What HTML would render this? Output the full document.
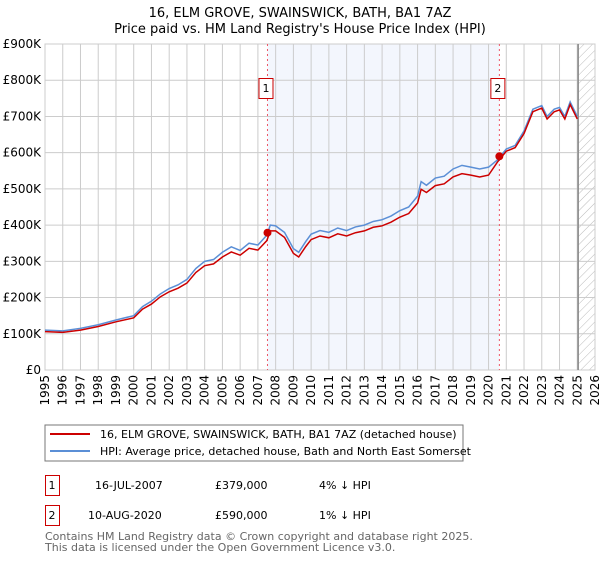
<!DOCTYPE html>
<html><head><meta charset="utf-8"><style>
body{margin:0;background:#fff;font-family:"DejaVu Sans","Liberation Sans",sans-serif;}
svg text{font-family:"DejaVu Sans","Liberation Sans",sans-serif;}
</style></head><body>
<svg id="chart" width="600" height="560" xmlns="http://www.w3.org/2000/svg">
<defs><pattern id="hatch" width="6" height="6" patternUnits="userSpaceOnUse" patternTransform="rotate(45)"><line x1="0" y1="0" x2="0" y2="6" stroke="#bbb" stroke-width="1"/></pattern></defs>
<text x="300" y="17" text-anchor="middle" font-size="13">16, ELM GROVE, SWAINSWICK, BATH, BA1 7AZ</text>
<text x="300" y="33" text-anchor="middle" font-size="13">Price paid vs. HM Land Registry's House Price Index (HPI)</text>
<g id="grid"></g><g id="marks"></g>
<rect x="45" y="425" width="418" height="36" fill="#fff" stroke="#777"/>
<line x1="50" y1="434" x2="90" y2="434" stroke="#cc0000" stroke-width="2"/>
<text x="100" y="438" font-size="11">16, ELM GROVE, SWAINSWICK, BATH, BA1 7AZ (detached house)</text>
<line x1="50" y1="451" x2="90" y2="451" stroke="#5b8fd6" stroke-width="2"/>
<text x="100" y="455" font-size="11">HPI: Average price, detached house, Bath and North East Somerset</text>
<g>
<rect x="45.5" y="475.5" width="14" height="20" fill="#fff" stroke="#cc0000"/><text x="52" y="489" text-anchor="middle" font-size="11">1</text>
<text x="95" y="489" font-size="11">16-JUL-2007</text><text x="215" y="489" font-size="11">£379,000</text><text x="319" y="489" font-size="11">4% ↓ HPI</text></g>
<g>
<rect x="45.5" y="505.5" width="14" height="20" fill="#fff" stroke="#cc0000"/><text x="52" y="519" text-anchor="middle" font-size="11">2</text>
<text x="88" y="519" font-size="11">10-AUG-2020</text><text x="215" y="519" font-size="11">£590,000</text><text x="319" y="519" font-size="11">1% ↓ HPI</text></g>
<text x="45" y="540" font-size="11" fill="#666">Contains HM Land Registry data © Crown copyright and database right 2025.</text>
<text x="45" y="551" font-size="11" fill="#666">This data is licensed under the Open Government Licence v3.0.</text>
</svg>
<script>
const hpiYears=[1995,1996,1997,1998,1999,2000,2000.5,2001,2001.5,2002,2002.5,2003,2003.5,2004,2004.5,2005,2005.5,2006,2006.5,2007,2007.5,2007.7,2008,2008.5,2009,2009.3,2009.7,2010,2010.5,2011,2011.5,2012,2012.5,2013,2013.5,2014,2014.5,2015,2015.5,2016,2016.2,2016.5,2017,2017.5,2018,2018.5,2019,2019.5,2020,2020.5,2021,2021.5,2022,2022.5,2023,2023.3,2023.7,2024,2024.3,2024.6,2024.8,2025];
const hpiValues=[110,108,115,125,138,150,175,190,210,225,235,250,280,300,305,325,340,330,350,345,372,400,398,380,335,325,355,375,385,380,392,385,395,400,410,415,425,440,450,480,520,510,530,535,555,565,560,555,560,580,610,620,660,720,730,700,720,725,700,740,720,700];
const priceValues=[106,104,110,120,133,144,168,182,202,216,226,240,269,288,293,312,326,317,336,331,357,384,384,366,322,312,341,360,370,365,376,370,379,384,394,398,408,422,432,461,499,490,509,514,533,542,538,533,538,574,604,614,653,713,723,693,713,718,693,733,713,693];
const sales=[{t:2007.54,v:379,label:"1"},{t:2020.61,v:590,label:"2"}];
const yTicks=[0,100,200,300,400,500,600,700,800,900];
const yTickLabels=["£0","£100K","£200K","£300K","£400K","£500K","£600K","£700K","£800K","£900K"];
const xTicks=[1995,1996,1997,1998,1999,2000,2001,2002,2003,2004,2005,2006,2007,2008,2009,2010,2011,2012,2013,2014,2015,2016,2017,2018,2019,2020,2021,2022,2023,2024,2025,2026];
const X0=45,X1=595,Y0=370,Y1=44;
const x=t=>X0+(t-1995)/31*(X1-X0);
const y=v=>Y0-v/900*(Y0-Y1);
const NS="http://www.w3.org/2000/svg";
function mk(tag,attrs,parent){const e=document.createElementNS(NS,tag);for(const k in attrs)e.setAttribute(k,attrs[k]);parent.appendChild(e);return e;}
const grid=document.getElementById('grid'),marks=document.getElementById('marks');
let r=mk('rect',{x:x(sales[0].t),y:Y1,width:x(sales[1].t)-x(sales[0].t),height:Y0-Y1,fill:'#eef2fc',opacity:0.7},grid);


let h=mk('rect',{x:x(2025.05),y:Y1,width:X1-x(2025.05),height:Y0-Y1,fill:'url(#hatch)'},grid);


yTicks.forEach((v,i)=>{
 mk('line',{x1:X0,x2:X1,y1:y(v),y2:y(v),stroke:'#ccc'},grid);
 const t=mk('text',{x:X0-4,y:y(v)+4,'text-anchor':'end','font-size':12},grid);t.textContent=yTickLabels[i];
 
 
});
xTicks.forEach(yr=>{
 mk('line',{x1:x(yr),x2:x(yr),y1:Y1,y2:Y0,stroke:'#ccc'},grid);
 const t=mk('text',{x:0,y:0,'text-anchor':'end','font-size':12,transform:`translate(${x(yr)+4},${Y0+5}) rotate(-90)`},grid);t.textContent=yr;
 
 
});
mk('rect',{x:X0,y:Y1,width:X1-X0,height:Y0-Y1,fill:'none',stroke:'#ccc'},grid);
mk('line',{x1:x(2025.05),x2:x(2025.05),y1:Y1,y2:Y0,stroke:'#888','stroke-width':1.5},grid);
sales.forEach(s=>{
 const l=mk('line',{x1:x(s.t),x2:x(s.t),y1:Y1,y2:Y0,stroke:'#ee5566','stroke-dasharray':'2,3'},marks);
 
 
 const b=mk('rect',{x:x(s.t)-8.5,y:78.5,width:14,height:20,fill:'#fff',stroke:'#cc0000'},marks);
 
 
 const t=mk('text',{x:x(s.t)-1.5,y:92,'text-anchor':'middle','font-size':11},marks);t.textContent=s.label;
});
const hp=mk('polyline',{points:hpiYears.map((t,i)=>x(t)+','+y(hpiValues[i])).join(' '),fill:'none',stroke:'#5b8fd6','stroke-width':1.5},marks);


const pp=mk('polyline',{points:hpiYears.map((t,i)=>x(t)+','+y(priceValues[i])).join(' '),fill:'none',stroke:'#cc0000','stroke-width':1.5},marks);


sales.forEach(s=>{
 const c=mk('circle',{cx:x(s.t),cy:y(s.v),r:4,fill:'#cc0000'},marks);
 
 
});
</script>
</body></html>
